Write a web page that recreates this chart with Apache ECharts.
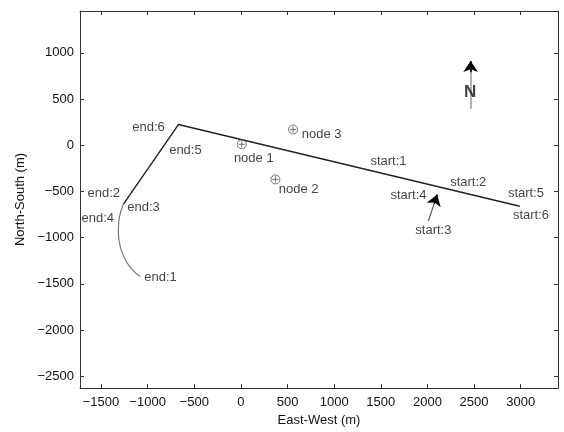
<!DOCTYPE html>
<html>
<head>
<meta charset="utf-8">
<script src="https://cdn.jsdelivr.net/npm/echarts@6/dist/echarts.min.js"></script>
<style>html,body{margin:0;padding:0;background:#fff}#c{width:564px;height:432px}</style>
</head>
<body>
<div id="c"></div>
<script>
// Track (straight part, dark)
var trackX = [2990, -670, -1261];
var trackY = [-660, 224, -641];
// Track (curved tail, grey)
var curveX = [-1261, -1303, -1314, -1293, -1239, -1165, -1079];
var curveY = [-641, -780, -940, -1100, -1239, -1346, -1421];
// Nodes
var nodeNames = ['node 1', 'node 2', 'node 3'];
var nodeX = [10, 370, 560];
var nodeY = [10, -370, 170];
// Text annotations
var labelNames = ['start:1','start:2','start:3','start:4','start:5','start:6',
                  'end:1','end:2','end:3','end:4','end:5','end:6',
                  'node 1','node 2','node 3'];
var labelX = [1389, 2244, 1870, 1603, 2863, 2917,
              -1036, -1645, -1218, -1709, -769, -1165,
              -75, 406, 652];
var labelY = [-171, -406, -919, -545, -524, -759,
              -1432, -524, -673, -791, -53, 192,
              -139, -481, 118];
// Start arrow (shaft and head)
var startArrow = [[2009, -823], [2105, -534]];
var startHead = [[2072, -633], [2105, -534]];
// North arrow (shaft and head)
var northArrow = [[2463, 395], [2463, 880]];
var northHead = [[2463, 790], [2463, 912]];
var northLabel = [2457, 577];
// Axes
var xTicks = [-1500, -1000, -500, 0, 500, 1000, 1500, 2000, 2500, 3000];
var yTicks = [-2500, -2000, -1500, -1000, -500, 0, 500, 1000];
var xRange = [-1725, 3400];
var yRange = [-2628, 1453];

var font = 'Liberation Sans, Arial, sans-serif';
var txt = '#111';
var lineCol = '#333';

function pairs(xs, ys) { return xs.map(function (x, i) { return [x, ys[i]]; }); }

var axisCommon = {
  type: 'value',
  axisLine: { show: true, onZero: false, lineStyle: { color: lineCol, width: 1 } },
  splitLine: { show: false },
  axisTick: { show: true, inside: true, length: 4, lineStyle: { color: lineCol } }
};

function fmt(v) { return String(v).replace('-', '\u2212'); }

var xBottom = Object.assign({}, axisCommon, {
  position: 'bottom', min: xRange[0], max: xRange[1],
  name: 'East-West (m)', nameLocation: 'middle', nameGap: 26,
  nameTextStyle: { fontFamily: font, fontSize: 13, color: txt },
  axisTick: Object.assign({}, axisCommon.axisTick, { customValues: xTicks }),
  axisLabel: { customValues: xTicks, fontFamily: font, fontSize: 13, color: txt, margin: 8, formatter: fmt }
});
var xTop = Object.assign({}, axisCommon, {
  position: 'top', min: xRange[0], max: xRange[1],
  axisTick: Object.assign({}, axisCommon.axisTick, { customValues: xTicks }),
  axisLabel: { show: false }
});
var yLeft = Object.assign({}, axisCommon, {
  position: 'left', min: yRange[0], max: yRange[1],
  name: 'North-South (m)', nameLocation: 'middle', nameGap: 51,
  nameTextStyle: { fontFamily: font, fontSize: 13, color: txt },
  axisTick: Object.assign({}, axisCommon.axisTick, { customValues: yTicks }),
  axisLabel: { customValues: yTicks, fontFamily: font, fontSize: 13, color: txt, margin: 6, formatter: fmt }
});
var yRight = Object.assign({}, axisCommon, {
  position: 'right', min: yRange[0], max: yRange[1],
  axisTick: Object.assign({}, axisCommon.axisTick, { customValues: yTicks }),
  axisLabel: { show: false }
});

var nodeSymbol = 'path://M10,0A10,10 0 1,1 10,20A10,10 0 1,1 10,0ZM3,10L17,10M10,3L10,17';

var option = {
  animation: false,
  backgroundColor: '#fff',
  grid: { left: 80, right: 6, top: 11, bottom: 39, containLabel: false },
  xAxis: [xBottom, xTop],
  yAxis: [yLeft, yRight],
  series: [
    {
      type: 'line', data: pairs(trackX, trackY), showSymbol: false, symbol: 'none',
      lineStyle: { color: '#222', width: 1.4 }, z: 3
    },
    {
      type: 'line', data: pairs(curveX, curveY), showSymbol: false, symbol: 'none', smooth: 0.4,
      lineStyle: { color: '#777', width: 1.2 }, z: 3
    },
    {
      type: 'scatter', data: pairs(nodeX, nodeY), symbol: nodeSymbol, symbolSize: 9,
      itemStyle: { color: 'rgba(0,0,0,0)', borderColor: '#555', borderWidth: 1 }, z: 4
    },
    {
      type: 'scatter', symbolSize: 0,
      data: labelNames.map(function (n, i) { return { name: n, value: [labelX[i], labelY[i]] }; }),
      label: { show: true, position: [0, 0], align: 'left', verticalAlign: 'middle',
               formatter: '{b}', fontFamily: font, fontSize: 13, color: txt },
      z: 5
    },
    {
      type: 'lines', coordinateSystem: 'cartesian2d',
      data: [{ coords: startArrow }],
      symbol: ['none', 'none'],
      lineStyle: { color: '#555', width: 1.1, opacity: 1 }, z: 5
    },
    {
      type: 'lines', coordinateSystem: 'cartesian2d',
      data: [{ coords: startHead }],
      symbol: ['none', 'arrow'], symbolSize: [0, 11],
      lineStyle: { color: '#000', width: 1.2, opacity: 1 }, z: 6
    },
    {
      type: 'lines', coordinateSystem: 'cartesian2d',
      data: [{ coords: northArrow }],
      symbol: ['none', 'none'],
      lineStyle: { color: '#999', width: 1.5, opacity: 1 }, z: 5
    },
    {
      type: 'lines', coordinateSystem: 'cartesian2d',
      data: [{ coords: northHead }],
      symbol: ['none', 'arrow'], symbolSize: [0, 11],
      lineStyle: { color: '#000', width: 1.5, opacity: 1 }, z: 6
    },
    {
      type: 'scatter', symbolSize: 0,
      data: [{ name: 'N', value: northLabel }],
      label: { show: true, position: [0, 0], align: 'center', verticalAlign: 'middle',
               formatter: '{b}', fontFamily: font, fontSize: 17, fontWeight: 'bold', color: '#111' },
      z: 7
    }
  ]
};
echarts.init(document.getElementById('c'), null, { renderer: 'canvas' }).setOption(option);
</script>
</body>
</html>
